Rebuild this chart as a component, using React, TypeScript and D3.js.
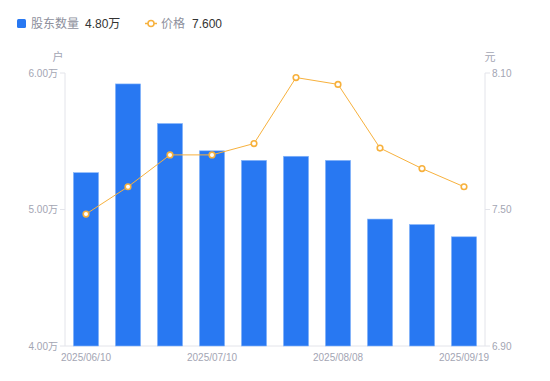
import React from "react";
import * as d3 from "d3";

const dates = ["2025/06/10","2025/06/20","2025/06/30","2025/07/10","2025/07/18","2025/07/31","2025/08/08","2025/08/20","2025/08/29","2025/09/19"];
const holders = [5.27, 5.92, 5.63, 5.43, 5.36, 5.39, 5.36, 4.93, 4.89, 4.80];
const prices = [7.48, 7.60, 7.74, 7.74, 7.79, 8.08, 8.05, 7.77, 7.68, 7.60];
const leftTicks = [4.0, 5.0, 6.0];
const rightTicks = [6.9, 7.5, 8.1];
const shownDates = ["2025/06/10","2025/07/10","2025/08/08","2025/09/19"];

export default function App() {
  const W = 550, H = 381;
  const left = 65, right = 485, top = 73, bottom = 346;
  const x = d3.scaleBand<string>().domain(dates).range([left, right]).paddingInner(0.4).paddingOuter(0.2);
  const yL = d3.scaleLinear().domain([4, 6]).range([bottom, top]);
  const yR = d3.scaleLinear().domain([6.9, 8.1]).range([bottom, top]);
  const cx = (d: string) => (x(d) as number) + x.bandwidth() / 2;
  const line = d3.line<number>().x((_, i) => cx(dates[i])).y((v) => yR(v));
  const axisColor = "#e3e4ea";
  const textColor = "#a3a5b3";
  const font = "'Liberation Sans', 'Noto Sans CJK SC', sans-serif";
  const blue = "#2878f2";
  const orange = "#f7b13d";
  return (
    <svg width={W} height={H} style={{ position: "absolute", left: 0, top: 0, fontFamily: font }}>
      {/* legend */}
      <rect x={17} y={19} width={9} height={9} rx={1.5} fill={blue} />
      <text x={31} y={28} fontSize={12} fill="#8d8f9c">股东数量</text>
      <text x={85} y={28} fontSize={12} fill="#333">4.80万</text>
      <line x1={145} x2={157} y1={23.5} y2={23.5} stroke={orange} strokeWidth={1.5} />
      <circle cx={151} cy={23.5} r={3} fill="#fff" stroke={orange} strokeWidth={1.5} />
      <text x={161} y={28} fontSize={12} fill="#8d8f9c">价格</text>
      <text x={192} y={28} fontSize={12} fill="#333">7.600</text>

      {/* unit labels */}
      <text x={58} y={61} fontSize={11} fill={textColor} textAnchor="middle">户</text>
      <text x={490} y={61} fontSize={11} fill={textColor} textAnchor="middle">元</text>

      {/* axes */}
      <line x1={left} x2={left} y1={top} y2={bottom} stroke={axisColor} />
      <line x1={right} x2={right} y1={top} y2={bottom} stroke={axisColor} />
      <line x1={left} x2={right} y1={bottom} y2={bottom} stroke={axisColor} />
      {leftTicks.map((t) => (
        <g key={"l" + t}>
          <line x1={left - 5} x2={left} y1={yL(t)} y2={yL(t)} stroke={axisColor} />
          <text x={left - 7} y={yL(t) + 3.5} fontSize={10} fill={textColor} textAnchor="end">{t.toFixed(2)}万</text>
        </g>
      ))}
      {rightTicks.map((t) => (
        <g key={"r" + t}>
          <line x1={right} x2={right + 5} y1={yR(t)} y2={yR(t)} stroke={axisColor} />
          <text x={right + 7} y={yR(t) + 3.5} fontSize={10} fill={textColor}>{t.toFixed(2)}</text>
        </g>
      ))}
      {shownDates.map((d) => (
        <text key={d} x={cx(d)} y={361} fontSize={10} fill={textColor} textAnchor="middle">{d}</text>
      ))}

      {/* bars */}
      {holders.map((v, i) => (
        <rect key={i} x={x(dates[i])} y={yL(v)} width={x.bandwidth()} height={bottom - yL(v)} fill={blue} stroke="#8ab8fa" strokeWidth={0.6} />
      ))}

      {/* line */}
      <path d={line(prices) || ""} fill="none" stroke={orange} strokeWidth={1} />
      {prices.map((v, i) => (
        <circle key={i} cx={cx(dates[i])} cy={yR(v)} r={2.8} fill="#fff" stroke={orange} strokeWidth={1.6} />
      ))}
    </svg>
  );
}
